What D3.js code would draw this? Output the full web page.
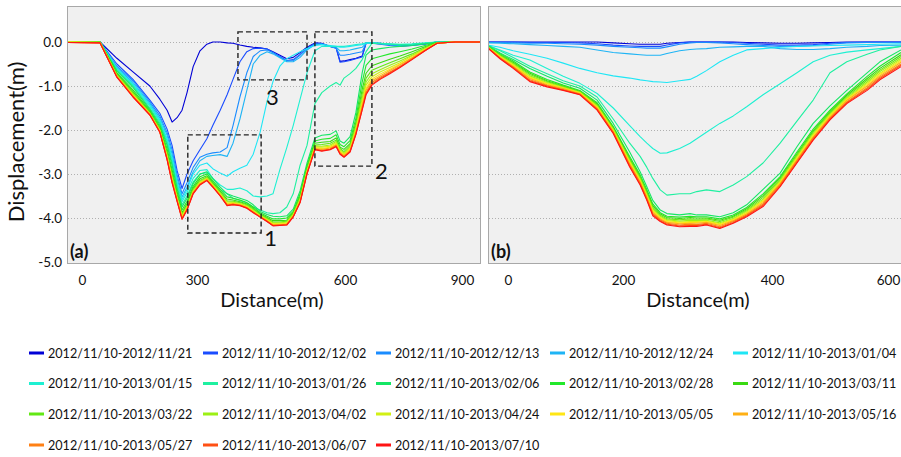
<!DOCTYPE html>
<html><head><meta charset="utf-8">
<script src="https://cdn.jsdelivr.net/npm/d3@7/dist/d3.min.js"></script>
<style>
body{margin:0;background:#fff;}
svg{display:block;font-family:Lato,"Open Sans",sans-serif;}
</style>
</head><body>
<svg id="chart" width="901" height="457"></svg>
<script>
// ---------- data ----------
const seriesLabels = ["2012/11/10-2012/11/21","2012/11/10-2012/12/02","2012/11/10-2012/12/13","2012/11/10-2012/12/24","2012/11/10-2013/01/04",
  "2012/11/10-2013/01/15","2012/11/10-2013/01/26","2012/11/10-2013/02/06","2012/11/10-2013/02/28","2012/11/10-2013/03/11",
  "2012/11/10-2013/03/22","2012/11/10-2013/04/02","2012/11/10-2013/04/24","2012/11/10-2013/05/05","2012/11/10-2013/05/16",
  "2012/11/10-2013/05/27","2012/11/10-2013/06/07","2012/11/10-2013/07/10"];
const seriesColors = ["#0000d6","#1a4cff","#1a8cff","#1eb4f5","#1ee6f5","#1ef0d2","#1ef0a0","#14e664","#22e82a","#3ad912",
  "#62e814","#9cf014","#d2f014","#ffe614","#ffb014","#ff8014","#ff5014","#ff1414"];

const xTicksA = [0, 300, 600, 900];
const xTicksB = [0, 200, 400, 600];
const yTicks = [0, -1, -2, -3, -4, -5];

// panel (a): distance (m) and displacement (m) per series
const distanceA = [-39,47,91,133,177,203,222,235,248,261,274,290,306,320,332,347,361,373,387,401,414,428,442,454,468,482,495,509,523,539,553,570,582,590,598,613,628,644,654,669,690,715,741,772,805,836,882,946];
const A_1121 = [0,0,-0.37,-0.68,-1.0,-1.3,-1.55,-1.82,-1.72,-1.55,-1.15,-0.56,-0.2,-0.05,0,0,-0.02,-0.03,-0.07,-0.1,-0.12,-0.13,-0.16,-0.22,-0.3,-0.38,-0.35,-0.24,-0.12,-0.02,-0.03,-0.1,-0.13,-0.44,-0.43,-0.4,-0.37,-0.32,-0.02,-0.02,-0.03,-0.05,-0.07,-0.06,-0.04,0,0,0];
const A_1202 = [0,0,-0.5,-0.85,-1.32,-1.62,-1.98,-2.35,-2.92,-3.33,-3.0,-2.7,-2.45,-2.2,-1.9,-1.55,-1.2,-0.85,-0.45,-0.22,-0.15,-0.14,-0.16,-0.24,-0.33,-0.42,-0.4,-0.28,-0.14,-0.04,-0.04,-0.1,-0.14,-0.46,-0.45,-0.42,-0.38,-0.34,-0.03,-0.03,-0.05,-0.08,-0.1,-0.08,-0.05,0,0,0];
const A_1213 = [0,0,-0.55,-0.88,-1.36,-1.68,-2.06,-2.45,-3.02,-3.45,-3.2,-2.85,-2.62,-2.55,-2.52,-2.5,-2.4,-1.9,-1.25,-0.7,-0.33,-0.2,-0.18,-0.24,-0.34,-0.43,-0.42,-0.3,-0.15,-0.05,-0.04,-0.1,-0.14,-0.3,-0.3,-0.28,-0.25,-0.22,-0.03,-0.03,-0.04,-0.06,-0.08,-0.07,-0.04,0,0,0];
const A_1224 = [0,0,-0.58,-0.92,-1.4,-1.73,-2.12,-2.55,-3.1,-3.52,-3.3,-2.95,-2.7,-2.6,-2.58,-2.56,-2.6,-2.3,-1.75,-1.1,-0.5,-0.3,-0.22,-0.27,-0.36,-0.45,-0.45,-0.35,-0.18,-0.06,-0.05,-0.1,-0.12,-0.2,-0.2,-0.18,-0.15,-0.12,-0.03,-0.03,-0.04,-0.06,-0.07,-0.06,-0.04,0,0,0];
const A_0104 = [0,0,-0.6,-0.95,-1.43,-1.77,-2.2,-2.62,-3.18,-3.58,-3.35,-3.0,-2.8,-2.75,-2.88,-2.98,-3.05,-2.95,-2.87,-2.8,-2.55,-2.05,-1.35,-0.9,-0.55,-0.38,-0.3,-0.22,-0.15,-0.08,-0.06,-0.08,-0.1,-0.12,-0.12,-0.1,-0.08,-0.06,-0.03,-0.02,-0.03,-0.05,-0.06,-0.05,-0.03,0,0,0];
const A_0115 = [0,0,-0.62,-0.98,-1.46,-1.8,-2.25,-2.68,-3.22,-3.63,-3.42,-3.1,-2.92,-2.9,-3.1,-3.25,-3.35,-3.35,-3.32,-3.38,-3.5,-3.52,-3.5,-3.45,-2.9,-2.4,-1.9,-1.3,-0.7,-0.2,-0.1,-0.1,-0.1,-0.1,-0.1,-0.08,-0.06,-0.04,-0.02,-0.02,-0.03,-0.04,-0.05,-0.04,-0.02,0,0,0];
const A_0126 = [0,0,-0.64,-1.0,-1.5,-1.84,-2.3,-2.74,-3.28,-3.7,-3.5,-3.18,-3.0,-2.97,-3.2,-3.35,-3.45,-3.55,-3.6,-3.66,-3.75,-3.82,-3.88,-3.9,-3.88,-3.75,-3.45,-2.8,-2.35,-1.4,-1.15,-1.0,-0.92,-0.98,-0.82,-0.72,-0.6,-0.4,-0.22,-0.03,-0.04,-0.05,-0.06,-0.05,-0.03,0,0,0];
const A_0206 = [0,0,-0.66,-1.03,-1.53,-1.88,-2.35,-2.80,-3.33,-3.75,-3.55,-3.22,-3.00,-2.95,-3.10,-3.30,-3.45,-3.50,-3.55,-3.60,-3.70,-3.85,-3.92,-3.96,-3.97,-3.95,-3.80,-3.38,-2.75,-2.18,-2.12,-2.10,-2.02,-2.25,-2.30,-2.15,-1.60,-0.70,-0.30,-0.18,-0.15,-0.12,-0.10,-0.08,-0.04,-0.01,0,0];
const A_0228 = [0,0,-0.70,-1.09,-1.56,-1.92,-2.43,-2.90,-3.40,-3.82,-3.62,-3.28,-3.06,-3.00,-3.15,-3.35,-3.52,-3.55,-3.59,-3.65,-3.75,-3.88,-3.96,-4.02,-4.02,-4.00,-3.85,-3.45,-2.81,-2.25,-2.21,-2.19,-2.11,-2.33,-2.38,-2.24,-1.73,-0.91,-0.53,-0.38,-0.33,-0.27,-0.22,-0.16,-0.08,-0.01,0,0];
const A_0311 = [0,0,-0.72,-1.13,-1.59,-1.96,-2.50,-2.98,-3.46,-3.88,-3.67,-3.32,-3.11,-3.04,-3.19,-3.39,-3.57,-3.59,-3.63,-3.68,-3.78,-3.91,-3.99,-4.06,-4.06,-4.05,-3.88,-3.50,-2.86,-2.30,-2.28,-2.26,-2.18,-2.39,-2.44,-2.31,-1.83,-1.08,-0.71,-0.54,-0.47,-0.39,-0.32,-0.22,-0.11,-0.02,0,0];
const A_0322 = [0,0,-0.74,-1.16,-1.61,-1.98,-2.54,-3.03,-3.50,-3.91,-3.71,-3.35,-3.15,-3.07,-3.22,-3.42,-3.61,-3.62,-3.65,-3.70,-3.80,-3.93,-4.01,-4.09,-4.09,-4.07,-3.90,-3.54,-2.90,-2.34,-2.33,-2.30,-2.23,-2.42,-2.49,-2.35,-1.89,-1.19,-0.82,-0.64,-0.56,-0.47,-0.38,-0.27,-0.13,-0.02,0,0];
const A_0402 = [0,0,-0.76,-1.18,-1.62,-2.00,-2.57,-3.07,-3.53,-3.94,-3.73,-3.38,-3.17,-3.09,-3.24,-3.44,-3.63,-3.64,-3.67,-3.72,-3.82,-3.94,-4.03,-4.11,-4.11,-4.09,-3.92,-3.56,-2.92,-2.36,-2.37,-2.34,-2.26,-2.45,-2.52,-2.39,-1.94,-1.28,-0.91,-0.72,-0.63,-0.53,-0.43,-0.30,-0.15,-0.02,0,0];
const A_0424 = [0,-0.01,-0.77,-1.20,-1.63,-2.01,-2.60,-3.10,-3.55,-3.96,-3.76,-3.40,-3.19,-3.10,-3.25,-3.45,-3.66,-3.65,-3.68,-3.74,-3.84,-3.95,-4.04,-4.13,-4.12,-4.11,-3.94,-3.59,-2.94,-2.39,-2.39,-2.37,-2.29,-2.48,-2.54,-2.42,-1.98,-1.35,-0.98,-0.79,-0.68,-0.58,-0.47,-0.32,-0.16,-0.03,0,0];
const A_0505 = [0,-0.01,-0.78,-1.21,-1.64,-2.02,-2.62,-3.13,-3.57,-3.98,-3.77,-3.41,-3.21,-3.12,-3.27,-3.47,-3.67,-3.67,-3.69,-3.75,-3.85,-3.96,-4.05,-4.14,-4.14,-4.12,-3.95,-3.60,-2.96,-2.40,-2.42,-2.39,-2.32,-2.50,-2.57,-2.44,-2.02,-1.41,-1.05,-0.84,-0.73,-0.62,-0.50,-0.35,-0.17,-0.03,0,0];
const A_0516 = [-0.01,-0.01,-0.78,-1.22,-1.64,-2.03,-2.64,-3.15,-3.59,-4.00,-3.79,-3.42,-3.22,-3.13,-3.28,-3.48,-3.69,-3.68,-3.70,-3.76,-3.86,-3.96,-4.06,-4.15,-4.15,-4.14,-3.96,-3.62,-2.97,-2.42,-2.44,-2.41,-2.34,-2.51,-2.58,-2.46,-2.04,-1.45,-1.09,-0.88,-0.77,-0.65,-0.52,-0.36,-0.18,-0.03,0,0];
const A_0527 = [-0.01,-0.02,-0.79,-1.24,-1.65,-2.04,-2.66,-3.17,-3.60,-4.01,-3.80,-3.43,-3.23,-3.14,-3.29,-3.49,-3.70,-3.69,-3.71,-3.77,-3.87,-3.97,-4.07,-4.17,-4.16,-4.15,-3.97,-3.63,-2.98,-2.43,-2.46,-2.43,-2.35,-2.53,-2.60,-2.48,-2.07,-1.49,-1.14,-0.92,-0.80,-0.68,-0.55,-0.38,-0.19,-0.03,0,0];
const A_0607 = [-0.01,-0.02,-0.80,-1.24,-1.66,-2.05,-2.67,-3.19,-3.61,-4.02,-3.81,-3.44,-3.24,-3.14,-3.29,-3.49,-3.71,-3.69,-3.71,-3.77,-3.87,-3.98,-4.08,-4.17,-4.16,-4.15,-3.97,-3.64,-2.99,-2.44,-2.47,-2.44,-2.37,-2.54,-2.61,-2.49,-2.09,-1.53,-1.17,-0.96,-0.83,-0.70,-0.57,-0.39,-0.20,-0.03,0,0];
const A_0710 = [-0.01,-0.02,-0.80,-1.25,-1.66,-2.05,-2.68,-3.20,-3.62,-4.03,-3.82,-3.45,-3.25,-3.15,-3.30,-3.50,-3.72,-3.70,-3.72,-3.78,-3.88,-3.98,-4.08,-4.18,-4.17,-4.16,-3.98,-3.65,-3.00,-2.45,-2.48,-2.45,-2.38,-2.55,-2.62,-2.50,-2.10,-1.55,-1.20,-0.98,-0.85,-0.72,-0.58,-0.40,-0.20,-0.03,0,0];

// panel (b)
const distanceB = [-35,-14,9,38,68,96,125,155,183,209,223,232,240,250,259,276,290,299,312,330,348,366,388,414,443,471,500,529,564,586,622];
const B_1121 = [0,0,0,0,0,0,0,0,-0.02,-0.04,-0.05,-0.05,-0.05,-0.05,-0.03,-0.01,0,0,0,0,0,-0.01,-0.02,-0.03,-0.03,-0.02,-0.01,0,0,0,0];
const B_1202 = [0,0,0,-0.01,-0.01,-0.01,-0.02,-0.04,-0.07,-0.09,-0.1,-0.1,-0.1,-0.1,-0.07,-0.02,0,0,0,0,-0.01,-0.03,-0.05,-0.07,-0.07,-0.06,-0.03,-0.01,0,0,0];
const B_1213 = [-0.01,-0.01,-0.02,-0.03,-0.03,-0.04,-0.05,-0.07,-0.1,-0.12,-0.13,-0.14,-0.14,-0.14,-0.11,-0.05,-0.02,-0.01,-0.01,-0.02,-0.04,-0.06,-0.08,-0.1,-0.1,-0.08,-0.05,-0.02,-0.01,-0.01,-0.01];
const B_1224 = [-0.02,-0.03,-0.04,-0.06,-0.08,-0.1,-0.12,-0.18,-0.24,-0.27,-0.29,-0.3,-0.3,-0.3,-0.26,-0.2,-0.17,-0.16,-0.15,-0.12,-0.11,-0.1,-0.1,-0.15,-0.17,-0.17,-0.15,-0.12,-0.1,-0.08,-0.07];
const B_0104 = [-0.07,-0.12,-0.2,-0.28,-0.37,-0.48,-0.6,-0.7,-0.77,-0.82,-0.86,-0.88,-0.9,-0.91,-0.92,-0.88,-0.85,-0.78,-0.65,-0.45,-0.3,-0.18,-0.15,-0.12,-0.1,-0.09,-0.08,-0.07,-0.06,-0.05,-0.04];
const B_0115 = [-0.08,-0.18,-0.3,-0.41,-0.6,-0.78,-0.94,-1.17,-1.5,-1.9,-2.15,-2.3,-2.42,-2.53,-2.52,-2.42,-2.3,-2.2,-2.05,-1.85,-1.68,-1.47,-1.2,-0.95,-0.7,-0.45,-0.3,-0.23,-0.18,-0.15,-0.1];
const B_0126 = [-0.08,-0.2,-0.35,-0.55,-0.72,-0.88,-1.0,-1.25,-1.75,-2.3,-2.6,-2.85,-3.1,-3.36,-3.48,-3.45,-3.45,-3.4,-3.36,-3.4,-3.25,-3.06,-2.75,-2.3,-1.8,-1.32,-0.7,-0.45,-0.28,-0.18,-0.1];
const B_0206 = [-0.08,-0.25,-0.4,-0.6,-0.78,-0.93,-1.05,-1.32,-1.85,-2.5,-2.95,-3.29,-3.6,-3.82,-3.9,-3.93,-3.9,-3.93,-3.93,-3.97,-3.88,-3.7,-3.35,-2.98,-2.38,-1.85,-1.45,-1.1,-0.7,-0.45,-0.18];
const B_0228 = [-0.10,-0.27,-0.43,-0.68,-0.85,-0.98,-1.10,-1.38,-1.92,-2.60,-3.02,-3.36,-3.68,-3.88,-3.96,-3.98,-3.96,-3.97,-3.97,-4.02,-3.93,-3.76,-3.45,-3.06,-2.50,-1.98,-1.55,-1.18,-0.78,-0.55,-0.24];
const B_0311 = [-0.11,-0.29,-0.46,-0.71,-0.88,-1.00,-1.12,-1.41,-1.94,-2.64,-3.06,-3.40,-3.72,-3.91,-3.99,-4.01,-3.99,-4.00,-4.00,-4.05,-3.96,-3.79,-3.49,-3.09,-2.54,-2.02,-1.58,-1.21,-0.83,-0.60,-0.29];
const B_0322 = [-0.11,-0.30,-0.48,-0.74,-0.90,-1.01,-1.13,-1.43,-1.97,-2.67,-3.08,-3.43,-3.76,-3.94,-4.02,-4.04,-4.02,-4.03,-4.02,-4.08,-3.98,-3.82,-3.53,-3.12,-2.57,-2.05,-1.61,-1.24,-0.87,-0.64,-0.33];
const B_0402 = [-0.12,-0.31,-0.50,-0.77,-0.92,-1.03,-1.14,-1.45,-1.98,-2.70,-3.11,-3.46,-3.79,-3.96,-4.04,-4.07,-4.05,-4.06,-4.05,-4.11,-4.01,-3.84,-3.57,-3.15,-2.60,-2.08,-1.64,-1.27,-0.91,-0.67,-0.37];
const B_0424 = [-0.12,-0.33,-0.52,-0.79,-0.94,-1.04,-1.15,-1.47,-2.00,-2.72,-3.14,-3.48,-3.82,-3.98,-4.06,-4.09,-4.08,-4.08,-4.07,-4.13,-4.03,-3.87,-3.60,-3.18,-2.63,-2.11,-1.66,-1.29,-0.94,-0.71,-0.40];
const B_0505 = [-0.12,-0.34,-0.53,-0.81,-0.95,-1.05,-1.16,-1.48,-2.02,-2.74,-3.16,-3.50,-3.84,-4.00,-4.08,-4.11,-4.10,-4.10,-4.08,-4.15,-4.04,-3.89,-3.62,-3.20,-2.65,-2.13,-1.68,-1.31,-0.97,-0.74,-0.43];
const B_0516 = [-0.13,-0.35,-0.55,-0.83,-0.97,-1.06,-1.17,-1.50,-2.03,-2.77,-3.18,-3.53,-3.87,-4.02,-4.10,-4.13,-4.12,-4.12,-4.10,-4.17,-4.06,-3.91,-3.65,-3.22,-2.68,-2.16,-1.70,-1.33,-1.00,-0.77,-0.46];
const B_0527 = [-0.13,-0.36,-0.57,-0.86,-0.99,-1.08,-1.18,-1.52,-2.05,-2.79,-3.20,-3.55,-3.90,-4.04,-4.12,-4.16,-4.14,-4.15,-4.12,-4.20,-4.08,-3.93,-3.68,-3.24,-2.70,-2.18,-1.73,-1.36,-1.04,-0.80,-0.50];
const B_0607 = [-0.14,-0.37,-0.58,-0.88,-1.00,-1.09,-1.19,-1.53,-2.06,-2.82,-3.23,-3.58,-3.92,-4.06,-4.14,-4.18,-4.17,-4.17,-4.14,-4.22,-4.10,-3.95,-3.71,-3.27,-2.73,-2.21,-1.75,-1.38,-1.07,-0.83,-0.53];
const B_0710 = [-0.14,-0.38,-0.60,-0.90,-1.02,-1.10,-1.20,-1.55,-2.08,-2.84,-3.25,-3.60,-3.95,-4.08,-4.16,-4.20,-4.19,-4.19,-4.16,-4.24,-4.12,-3.97,-3.74,-3.29,-2.75,-2.23,-1.77,-1.40,-1.10,-0.86,-0.56];

// dashed annotation boxes of panel (a), in data units
const boxIds = ["1", "3", "2"];
const boxDist = [[276, 430], [383, 523], [539, 669]];
const boxDisp = [[-2.11, -4.34], [0.23, -0.86], [0.23, -2.82]];

const seriesA = [A_1121,A_1202,A_1213,A_1224,A_0104,A_0115,A_0126,A_0206,A_0228,A_0311,A_0322,A_0402,A_0424,A_0505,A_0516,A_0527,A_0607,A_0710];
const seriesB = [B_1121,B_1202,B_1213,B_1224,B_0104,B_0115,B_0126,B_0206,B_0228,B_0311,B_0322,B_0402,B_0424,B_0505,B_0516,B_0527,B_0607,B_0710];

// ---------- drawing ----------
const svg = d3.select("#chart");
const frameTop = 6, frameBottom = 263;
const y = d3.scaleLinear().domain([-5, 0]).range([262, 42]);
const xA = d3.scaleLinear().domain([-39, 0, 300, 600, 900, 946]).range([67, 82, 197, 345, 462, 480]);
const xB = d3.scaleLinear().domain([-35, 0, 200, 400, 600, 622]).range([488, 508, 623, 772, 888, 901]);
const defs = svg.append("defs");

function drawPanel(x, dist, series, ticks, tag, id, frameWidth) {
  const r = x.range();
  const left = r[0], right = r[r.length - 1];
  defs.append("clipPath").attr("id", id).append("rect")
    .attr("x", left + 1).attr("y", frameTop + 1)
    .attr("width", right - left - 1).attr("height", frameBottom - frameTop - 1);
  const g = svg.append("g");
  g.append("rect").attr("x", left + 0.5).attr("y", frameTop + 0.5)
    .attr("width", frameWidth).attr("height", frameBottom - frameTop)
    .attr("fill", "#f0f0f0").attr("stroke", "#a8a8a8").attr("stroke-width", 1);
  g.append("g").selectAll("line").data(yTicks.filter(t => t > -5)).join("line")
    .attr("x1", left + 1).attr("x2", right)
    .attr("y1", d => Math.round(y(d)) + 0.5).attr("y2", d => Math.round(y(d)) + 0.5)
    .attr("stroke", "#b0b0b0").attr("stroke-dasharray", "1,2");
  const line = d3.line().x(d => x(d[0])).y(d => y(d[1]));
  g.append("g").attr("clip-path", `url(#${id})`).selectAll("path").data(series).join("path")
    .attr("d", v => line(d3.zip(dist, v)))
    .attr("fill", "none")
    .attr("stroke", (v, i) => seriesColors[i])
    .attr("stroke-width", 1.1)
    .attr("stroke-linejoin", "round");
  const ax = g.append("g").attr("transform", `translate(0,${frameBottom})`)
    .call(d3.axisBottom(x).tickValues(ticks).tickSize(0).tickPadding(12).tickFormat(d3.format("d")));
  ax.select(".domain").remove();
  ax.selectAll("text").attr("font-size", 13.5).attr("font-family", "Lato").attr("fill", "#111");
  g.append("text").attr("x", (x(ticks[0]) + x(ticks[ticks.length - 1])) / 2).attr("y", 307)
    .attr("text-anchor", "middle").attr("font-size", 20).attr("fill", "#111").text("Distance(m)");
  g.append("text").attr("x", left + 3).attr("y", 258).attr("font-size", 18).attr("font-weight", "bold")
    .attr("fill", "#111").text(tag);
  return g;
}

const gA = drawPanel(xA, distanceA, seriesA, xTicksA, "(a)", "clipA", 413);
drawPanel(xB, distanceB, seriesB, xTicksB, "(b)", "clipB", 420);

// y axis on panel (a)
const ay = svg.append("g").attr("transform", "translate(67,0)")
  .call(d3.axisLeft(y).tickValues(yTicks).tickSize(0).tickPadding(5).tickFormat(d => d.toFixed(1)));
ay.select(".domain").remove();
ay.selectAll("text").attr("font-size", 13.5).attr("font-family", "Lato").attr("fill", "#111");
svg.append("text").attr("transform", "translate(24,142) rotate(-90)").attr("text-anchor", "middle")
  .attr("font-size", 22).attr("fill", "#111").text("Displacement(m)");

// annotation boxes
boxIds.forEach((id, i) => {
  const x0 = xA(boxDist[i][0]), x1 = xA(boxDist[i][1]);
  const y0 = y(boxDisp[i][0]), y1 = y(boxDisp[i][1]);
  gA.append("rect").attr("x", x0).attr("y", y0).attr("width", x1 - x0).attr("height", y1 - y0)
    .attr("fill", "none").attr("stroke", "#222").attr("stroke-width", 1.4).attr("stroke-dasharray", "5,3");
  const lbl = gA.append("text").attr("font-size", 22).attr("fill", "#111").text(id);
  if (id === "3") lbl.attr("x", (x0 + x1) / 2).attr("y", y1 + 25).attr("text-anchor", "middle");
  else lbl.attr("x", x1 + 3).attr("y", y1 + 13);
});

// legend
const legendCols = [29, 203, 376, 550, 733];
const legendRowY = [353, 383.5, 414, 445];
const lg = svg.append("g").selectAll("g").data(seriesLabels).join("g")
  .attr("transform", (d, i) => `translate(${legendCols[i % 5]},${legendRowY[Math.floor(i / 5)]})`);
lg.append("rect").attr("x", 0).attr("y", -1.5).attr("width", 15).attr("height", 3)
  .attr("fill", (d, i) => seriesColors[i]);
lg.append("text").attr("x", 19).attr("y", 4.6).attr("font-size", 12.6).attr("fill", "#111").text(d => d);
</script>
</body></html>
